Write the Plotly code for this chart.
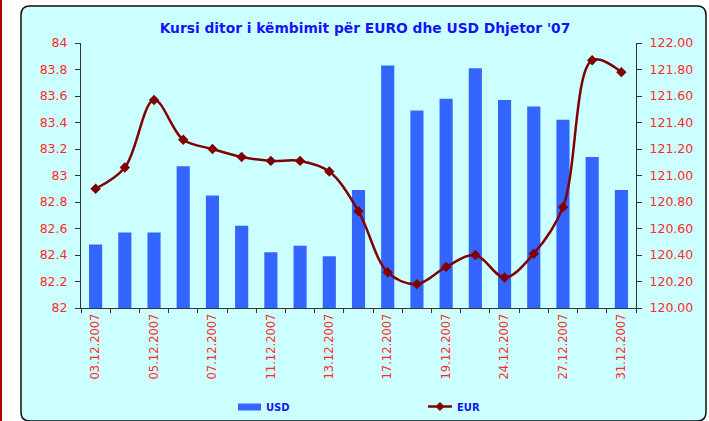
import plotly.graph_objects as go

dates = ["03.12.2007", "04.12.2007", "05.12.2007", "06.12.2007", "07.12.2007",
         "10.12.2007", "11.12.2007", "12.12.2007", "13.12.2007", "14.12.2007",
         "17.12.2007", "18.12.2007", "19.12.2007", "20.12.2007", "24.12.2007",
         "26.12.2007", "27.12.2007", "28.12.2007", "31.12.2007"]
usd = [82.48, 82.57, 82.57, 83.07, 82.85, 82.62, 82.42, 82.47, 82.39, 82.89,
       83.83, 83.49, 83.58, 83.81, 83.57, 83.52, 83.42, 83.14, 82.89]
eur = [120.90, 121.06, 121.57, 121.27, 121.20, 121.14, 121.11, 121.11, 121.03, 120.73,
       120.27, 120.18, 120.31, 120.40, 120.23, 120.41, 120.76, 121.87, 121.78]
tick_text = [d if i % 2 == 0 else "" for i, d in enumerate(dates)]

W, H = 709, 421
L, R, T, B = 81, 73, 43, 113
PW, PH = W - L - R, H - T - B


def px(x):
    return (x - L) / PW


def py(y):
    return (T + PH - y) / PH


RED = "#FF2A2A"
BLUE_TXT = "#1414F5"
BAR = "#3366FF"
LINE = "#800000"
AX = "#333333"

fig = go.Figure()
fig.add_trace(go.Bar(x=dates, y=usd, name="USD", width=0.45,
                     marker=dict(color=BAR, line=dict(width=0))))
fig.add_trace(go.Scatter(x=dates, y=eur, name="EUR", yaxis="y2",
                         mode="lines+markers",
                         line=dict(color=LINE, width=2.5, shape="spline", smoothing=1),
                         marker=dict(symbol="diamond", size=8, color=LINE)))

# cyan rounded box
x0, y0, x1, y1, r = 21, 6, 706, 421, 9
pts = [("M", (x0, y0 + r)), ("Q", (x0, y0), (x0 + r, y0)), ("L", (x1 - r, y0)),
       ("Q", (x1, y0), (x1, y0 + r)), ("L", (x1, y1 - r)),
       ("Q", (x1, y1), (x1 - r, y1)), ("L", (x0 + r, y1)),
       ("Q", (x0, y1), (x0, y1 - r))]
path = ""
for item in pts:
    cmd = item[0]
    coords = " ".join(f"{px(a):.5f},{py(b):.5f}" for a, b in item[1:])
    path += f"{cmd} {coords} "
path += "Z"

shapes = [
    dict(type="path", xref="paper", yref="paper", path=path, layer="below",
         fillcolor="#CCFFFF", line=dict(color="#111111", width=1.5)),
    dict(type="line", xref="paper", yref="paper", x0=px(1), x1=px(1), y0=py(0), y1=py(H),
         line=dict(color="#B00000", width=2)),
    # legend symbols
    dict(type="rect", xref="paper", yref="paper", x0=px(238), x1=px(261),
         y0=py(410.5), y1=py(403.5), fillcolor=BAR, line=dict(width=0)),
    dict(type="line", xref="paper", yref="paper", x0=px(428), x1=px(452),
         y0=py(406.5), y1=py(406.5), line=dict(color=LINE, width=2.5)),
    dict(type="path", xref="paper", yref="paper",
         path=f"M {px(440):.5f},{py(402.5):.5f} L {px(444):.5f},{py(406.5):.5f} "
              f"L {px(440):.5f},{py(410.5):.5f} L {px(436):.5f},{py(406.5):.5f} Z",
         fillcolor=LINE, line=dict(color=LINE, width=1)),
]

annotations = [
    dict(text="<b>USD</b>", xref="paper", yref="paper", x=px(264), y=py(407),
         xanchor="left", yanchor="middle", showarrow=False,
         font=dict(family="DejaVu Sans", size=10, color=BLUE_TXT)),
    dict(text="<b>EUR</b>", xref="paper", yref="paper", x=px(455), y=py(407),
         xanchor="left", yanchor="middle", showarrow=False,
         font=dict(family="DejaVu Sans", size=10, color=BLUE_TXT)),
]

tickfont = dict(family="DejaVu Sans", size=12.5, color=RED)

fig.update_layout(
    width=W, height=H,
    margin=dict(l=L, r=R, t=T, b=B, pad=0),
    paper_bgcolor="white",
    plot_bgcolor="rgba(0,0,0,0)",
    showlegend=False,
    title=dict(text="<b>Kursi ditor i këmbimit për EURO dhe USD Dhjetor '07</b>",
               xref="container", yref="container", x=365 / W, y=1 - 28 / H,
               xanchor="center", yanchor="middle",
               font=dict(family="DejaVu Sans", size=13.8, color=BLUE_TXT)),
    xaxis=dict(type="category", range=[-0.5, len(dates) - 0.5],
               tickmode="array", tickvals=dates, ticktext=tick_text,
               tickson="boundaries", ticks="outside", ticklen=4, tickcolor=AX,
               showline=True, linecolor=AX, linewidth=1, showgrid=False,
               tickangle=-90, tickfont=dict(family="DejaVu Sans", size=11.5, color=RED)),
    yaxis=dict(range=[82, 84], dtick=0.2, tick0=82, ticks="outside", ticklen=5,
               tickcolor=AX, showline=True, linecolor=AX, linewidth=1,
               showgrid=False, zeroline=False, tickfont=tickfont,
               ticklabelstandoff=5),
    yaxis2=dict(range=[120, 122], dtick=0.2, tick0=120, tickformat=".2f",
                overlaying="y", side="right", anchor="x",
                ticks="outside", ticklen=5, tickcolor=AX, showline=True,
                linecolor=AX, linewidth=1, showgrid=False, zeroline=False,
                tickfont=tickfont, ticklabelstandoff=5),
    yaxis3=dict(range=[120, 122], dtick=0.2, tick0=120,
                overlaying="y", side="right", anchor="x",
                ticks="inside", ticklen=5, tickcolor=AX, showline=False,
                showticklabels=False, showgrid=False, zeroline=False),
    shapes=shapes,
    annotations=annotations,
    bargap=0.55,
)

fig.write_html("out.html", config={"displayModeBar": False},
               post_script="document.body.style.margin='0';document.body.style.padding='0';")
